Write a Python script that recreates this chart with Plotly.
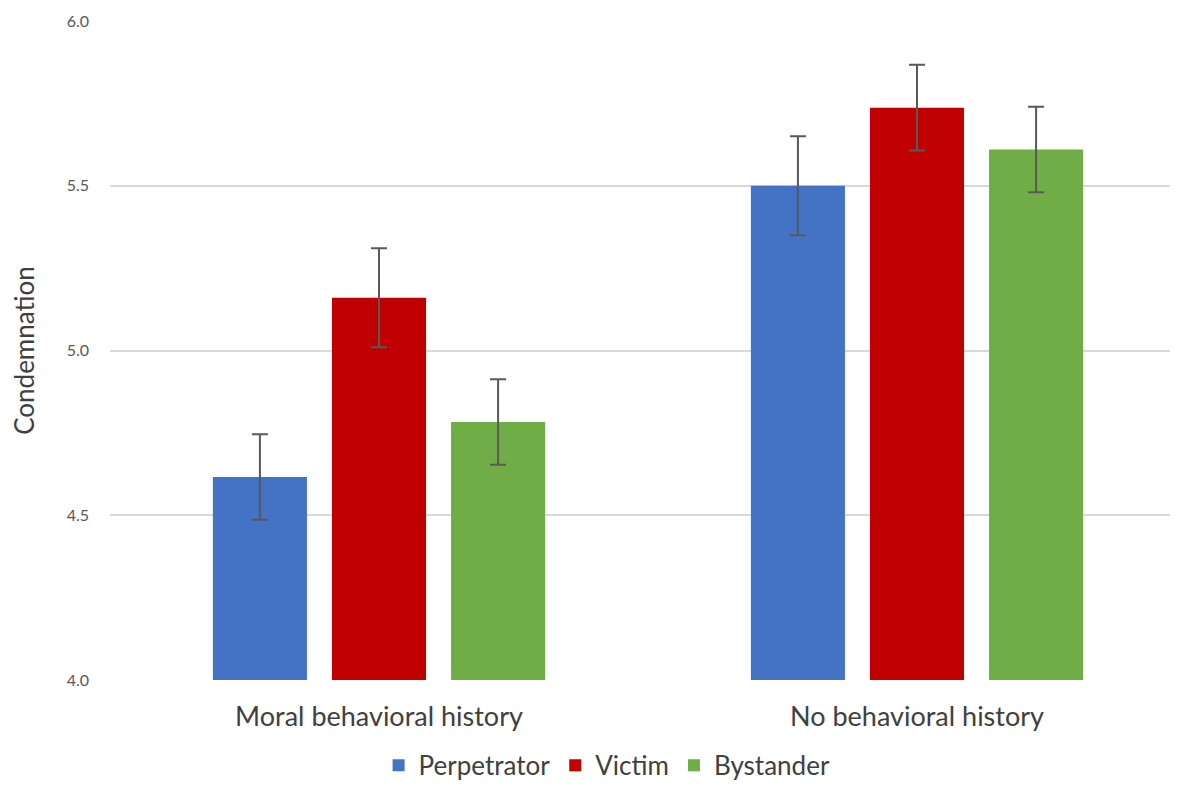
import plotly.graph_objects as go

categories = ["Moral behavioral history", "No behavioral history"]
series_names = ["Perpetrator", "Victim", "Bystander"]
perpetrator = [4.616, 5.50]
victim = [5.160, 5.737]
bystander = [4.783, 5.610]
perp_err = [0.130, 0.150]
victim_err = [0.150, 0.130]
bystander_err = [0.130, 0.130]
colors = ["#4472C4", "#C00000", "#70AD47"]
y_ticks = [4.0, 4.5, 5.0, 5.5, 6.0]

fig = go.Figure()
for name, vals, errs, col in zip(series_names, [perpetrator, victim, bystander],
                                 [perp_err, victim_err, bystander_err], colors):
    fig.add_trace(go.Bar(
        x=categories, y=vals, name=name, marker_color=col,
        marker_line_width=0,
        error_y=dict(type="data", array=errs, visible=True, color="#595959",
                     thickness=2, width=8),
    ))

fig.update_layout(
    width=1178, height=800,
    paper_bgcolor="white", plot_bgcolor="white",
    margin=dict(l=102, r=0, t=13, b=128),
    barmode="group", bargap=0.336, bargroupgap=0.21,
    font=dict(family="Lato, Open Sans, sans-serif", color="#595959"),
    showlegend=True,
    legend=dict(orientation="h", x=0.462, xanchor="center", y=-0.094, yanchor="top",
                font=dict(size=26, color="#404040"), itemwidth=30, traceorder="normal"),
    yaxis=dict(range=[4.0, 6.0], tickvals=y_ticks, ticktext=[f"{v:.1f}" for v in y_ticks],
               showgrid=True, gridcolor="#D9D9D9", gridwidth=1.5, zeroline=False,
               tickfont=dict(size=16, color="#595959"), ticks="", ticklabelstandoff=20,
               title=dict(text="Condemnation", font=dict(size=26, color="#404040"), standoff=26)),
    xaxis=dict(showgrid=False, showline=False, ticks="", ticklabelstandoff=18,
               tickfont=dict(size=27, color="#404040")),
)
fig.write_html("out.html")
